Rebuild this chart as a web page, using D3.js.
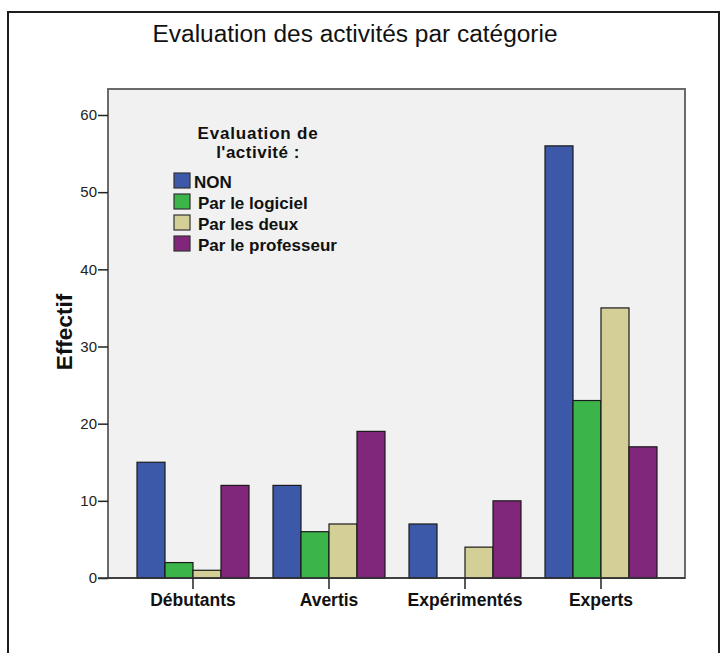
<!DOCTYPE html>
<html><head><meta charset="utf-8">
<script src="https://cdn.jsdelivr.net/npm/d3@7"></script>
<style>body{margin:0;background:#fff;} svg{display:block;font-family:"Liberation Sans",Arial,sans-serif;}</style>
</head><body>
<script>
const categories = ["Débutants", "Avertis", "Expérimentés", "Experts"];
const seriesNames = ["NON", "Par le logiciel", "Par les deux", "Par le professeur"];
const seriesColors = ["#3c58a8", "#3bb54a", "#d4cf97", "#80267b"];
const valuesNON = [15, 12, 7, 56];
const valuesLogiciel = [2, 6, 0, 23];
const valuesDeux = [1, 7, 4, 35];
const valuesProfesseur = [12, 19, 10, 17];
const yTicks = [0, 10, 20, 30, 40, 50, 60];
const title = "Evaluation des activités par catégorie";
const yTitle = "Effectif";
const legendTitle = ["Evaluation de", "l'activité :"];

const seriesValues = [valuesNON, valuesLogiciel, valuesDeux, valuesProfesseur];
const data = categories.map((c, i) => ({cat: c, vals: seriesNames.map((s, j) => ({s, j, v: seriesValues[j][i]}))}));

const W = 720, H = 653;
const svg = d3.select("body").append("svg").attr("width", W).attr("height", H);

// outer frame
svg.append("rect").attr("x", 8).attr("y", 12).attr("width", 711).attr("height", 660)
  .attr("fill", "none").attr("stroke", "#1e1e1e").attr("stroke-width", 2);

const plot = {left: 108, right: 685, top: 89, bottom: 578};
const y = d3.scaleLinear().domain([0, 60]).range([578, 115]);
const x0 = d3.scaleBand().domain(categories).range([125, 669]).padding(0);
const x1 = d3.scaleBand().domain(seriesNames).range([12, 124]).padding(0);

// plot background
svg.append("rect").attr("x", plot.left).attr("y", plot.top)
  .attr("width", plot.right - plot.left).attr("height", plot.bottom - plot.top)
  .attr("fill", "#f0f1f0").attr("stroke", "#6a6a6a").attr("stroke-width", 2);

// title
svg.append("text").attr("x", 355).attr("y", 42).attr("text-anchor", "middle")
  .attr("font-size", 23).attr("fill", "#111").attr("textLength", 405).attr("lengthAdjust", "spacingAndGlyphs").text(title);

// bars
const g = svg.append("g");
data.forEach(d => {
  g.selectAll(null).data(d.vals.filter(e => e.v > 0)).enter().append("rect")
    .attr("x", e => x0(d.cat) + x1(e.s))
    .attr("y", e => y(e.v))
    .attr("width", x1.bandwidth())
    .attr("height", e => y(0) - y(e.v))
    .attr("fill", e => seriesColors[e.j])
    .attr("stroke", "#1a1a1a").attr("stroke-width", 1.2);
});

// y axis
const yAxis = d3.axisLeft(y).tickValues(yTicks).tickSize(10).tickPadding(1).tickFormat(d3.format("d"));
const ya = svg.append("g").attr("transform", `translate(${plot.left},0)`).call(yAxis);
ya.select(".domain").remove();
ya.selectAll("line").attr("stroke", "#222").attr("stroke-width", 1.5);
ya.selectAll("text").attr("font-size", 15).attr("fill", "#222").attr("font-family", "Liberation Sans, Arial, sans-serif");

// baseline
svg.append("line").attr("x1", plot.left - 10).attr("x2", plot.right).attr("y1", y(0)).attr("y2", y(0))
  .attr("stroke", "#333").attr("stroke-width", 1.5);

// x axis
const xAxis = d3.axisBottom(x0).tickSize(11).tickPadding(5);
const xa = svg.append("g").attr("transform", `translate(0,${y(0)})`).call(xAxis);
xa.select(".domain").remove();
xa.selectAll("line").attr("stroke", "#222").attr("stroke-width", 1.5);
xa.selectAll("text").attr("font-size", 17.5).attr("font-weight", "bold").attr("fill", "#111")
  .attr("font-family", "Liberation Sans, Arial, sans-serif");

// y title
svg.append("text").attr("transform", "translate(72,332) rotate(-90)").attr("text-anchor", "middle")
  .attr("font-size", 22.5).attr("font-weight", "bold").attr("fill", "#111").text(yTitle);

// legend
const lg = svg.append("g");
legendTitle.forEach((t, i) => {
  lg.append("text").attr("x", 258).attr("y", 139 + i * 19).attr("text-anchor", "middle")
    .attr("font-size", 17).attr("font-weight", "bold").attr("fill", "#111")
    .attr("letter-spacing", i === 0 ? 0.8 : 0.5).text(t);
});
seriesNames.forEach((s, i) => {
  const yy = 173 + i * 21;
  lg.append("rect").attr("x", 174).attr("y", yy).attr("width", 16).attr("height", 15)
    .attr("fill", seriesColors[i]).attr("stroke", "#333").attr("stroke-width", 1.2);
  lg.append("text").attr("x", i === 0 ? 194 : 198).attr("y", yy + 15)
    .attr("font-size", 17).attr("font-weight", "bold").attr("fill", "#111").text(s);
});
</script>
</body></html>
